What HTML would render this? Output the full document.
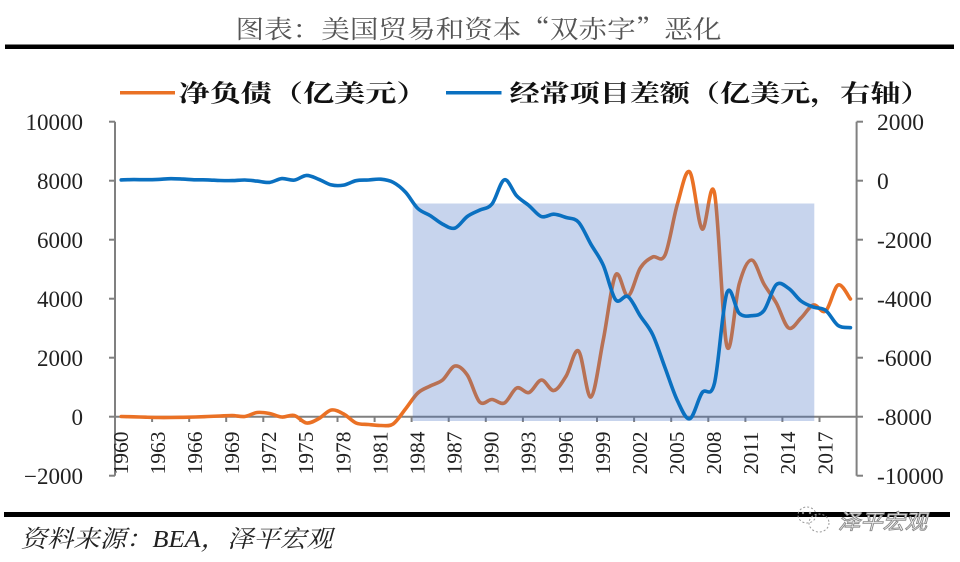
<!DOCTYPE html>
<html>
<head>
<meta charset="utf-8">
<style>
html,body{margin:0;padding:0;background:#fff;}
svg{display:block;}
</style>
</head>
<body>
<svg width="960" height="562" viewBox="0 0 960 562" xmlns="http://www.w3.org/2000/svg">
<rect x="0" y="0" width="960" height="562" fill="#ffffff"/>

<!-- Title -->
<text x="235.5" y="38" font-family="'Noto Serif CJK SC','Noto Sans CJK SC',serif" font-size="25" fill="#555555" textLength="486" lengthAdjust="spacingAndGlyphs">图表：美国贸易和资本“双赤字”恶化</text>
<rect x="5" y="44.5" width="949" height="4.5" fill="#000"/>

<!-- Legend -->
<line x1="120" y1="92.7" x2="175" y2="92.7" stroke="#EA7125" stroke-width="3.5"/>
<text x="178.5" y="101.5" font-family="'Noto Serif CJK SC','Noto Sans CJK SC',serif" font-weight="bold" font-size="24" fill="#111" textLength="249" lengthAdjust="spacingAndGlyphs">净负债（亿美元）</text>
<line x1="446" y1="92.7" x2="501.5" y2="92.7" stroke="#0A70C0" stroke-width="3.5"/>
<text x="509.5" y="101.5" font-family="'Noto Serif CJK SC','Noto Sans CJK SC',serif" font-weight="bold" font-size="24" fill="#111" textLength="421" lengthAdjust="spacingAndGlyphs">经常项目差额（亿美元，右轴）</text>

<!-- Axes -->
<g stroke="#808080" stroke-width="2" fill="none">
  <line x1="115" y1="121.7" x2="115" y2="475.7"/>
  <line x1="856.6" y1="121.7" x2="856.6" y2="475.7"/>
  <line x1="115" y1="416.7" x2="856.6" y2="416.7"/>
  <!-- left ticks -->
  <line x1="109" y1="121.7" x2="115" y2="121.7"/>
  <line x1="109" y1="180.7" x2="115" y2="180.7"/>
  <line x1="109" y1="239.7" x2="115" y2="239.7"/>
  <line x1="109" y1="298.7" x2="115" y2="298.7"/>
  <line x1="109" y1="357.7" x2="115" y2="357.7"/>
  <line x1="109" y1="416.7" x2="115" y2="416.7"/>
  <line x1="109" y1="475.7" x2="115" y2="475.7"/>
  <!-- right ticks -->
  <line x1="856.6" y1="121.7" x2="863" y2="121.7"/>
  <line x1="856.6" y1="180.7" x2="863" y2="180.7"/>
  <line x1="856.6" y1="239.7" x2="863" y2="239.7"/>
  <line x1="856.6" y1="298.7" x2="863" y2="298.7"/>
  <line x1="856.6" y1="357.7" x2="863" y2="357.7"/>
  <line x1="856.6" y1="416.7" x2="863" y2="416.7"/>
  <line x1="856.6" y1="475.7" x2="863" y2="475.7"/>
  <!-- x ticks -->
  <line x1="152.1" y1="416.7" x2="152.1" y2="422"/>
  <line x1="189.2" y1="416.7" x2="189.2" y2="422"/>
  <line x1="226.2" y1="416.7" x2="226.2" y2="422"/>
  <line x1="263.3" y1="416.7" x2="263.3" y2="422"/>
  <line x1="300.4" y1="416.7" x2="300.4" y2="422"/>
  <line x1="337.5" y1="416.7" x2="337.5" y2="422"/>
  <line x1="374.6" y1="416.7" x2="374.6" y2="422"/>
  <line x1="411.6" y1="416.7" x2="411.6" y2="422"/>
  <line x1="448.7" y1="416.7" x2="448.7" y2="422"/>
  <line x1="485.8" y1="416.7" x2="485.8" y2="422"/>
  <line x1="522.9" y1="416.7" x2="522.9" y2="422"/>
  <line x1="560" y1="416.7" x2="560" y2="422"/>
  <line x1="597" y1="416.7" x2="597" y2="422"/>
  <line x1="634.1" y1="416.7" x2="634.1" y2="422"/>
  <line x1="671.2" y1="416.7" x2="671.2" y2="422"/>
  <line x1="708.3" y1="416.7" x2="708.3" y2="422"/>
  <line x1="745.4" y1="416.7" x2="745.4" y2="422"/>
  <line x1="782.4" y1="416.7" x2="782.4" y2="422"/>
  <line x1="819.5" y1="416.7" x2="819.5" y2="422"/>
</g>

<!-- Orange series: net liabilities -->
<polyline id="ol" fill="none" stroke="#EA7125" stroke-width="3.6" stroke-linejoin="round" stroke-linecap="round"
points="121.2,416.5 133.56,416.8 145.92,417.2 158.28,417.5 170.64,417.5 183,417.3 195.36,417 207.72,416.5 220.08,416 232.44,415.5 244.8,416.5 257.16,412.5 269.52,413.5 281.88,417 294.24,415.5 306.6,423 318.96,418.5 331.32,410 343.68,414 356.04,423 368.4,424.5 380.76,425.5 393.12,424 405.48,409 417.84,393 430.2,386 442.56,380 454.92,366 467.28,375 479.64,402 492,399.5 504.36,403 516.72,388 529.08,392.5 541.44,380 553.8,390.5 566.16,376 578.52,351 590.88,397 603.24,340 615.6,275 627.96,296 640.32,268 652.68,257 665.04,255 677.4,204 689.76,172 702.12,229 714.48,193 726.84,346 739.2,284 751.56,260 763.92,284 776.28,303 788.64,328 801,318 813.36,305 825.72,311 838.08,285 850.44,299"/>

<!-- Shaded period -->
<rect x="412.7" y="203.5" width="401.6" height="217.5" fill="#4472C4" fill-opacity="0.3"/>

<!-- Blue series: current account -->
<polyline id="bl" fill="none" stroke="#0A70C0" stroke-width="3.6" stroke-linejoin="round" stroke-linecap="round"
points="121.2,179.9 133.56,179.6 145.92,179.7 158.28,179.4 170.64,178.7 183,179.1 195.36,179.8 207.72,179.9 220.08,180.5 232.44,180.6 244.8,180.0 257.16,181.1 269.52,182.4 281.88,178.6 294.24,180.1 306.6,175.4 318.96,179.4 331.32,184.9 343.68,185.1 356.04,180.7 368.4,180.0 380.76,179.2 393.12,182.3 405.48,192.1 417.84,208.5 430.2,215.6 442.56,224.1 454.92,228.1 467.28,216.5 479.64,210.1 492,204.0 504.36,179.8 516.72,195.9 529.08,205.7 541.44,216.6 553.8,214.2 566.16,217.5 578.52,222.2 590.88,244.2 603.24,265.2 615.6,299.7 627.96,296.6 640.32,316.0 652.68,334.6 665.04,367.7 677.4,400.6 689.76,418.7 702.12,392.7 714.48,383.2 726.84,293.0 739.2,313.3 751.56,315.7 763.92,310.6 776.28,284.7 788.64,288.4 801,301.0 813.36,307.1 825.72,310.4 838.08,325.5 850.44,327.7"/>

<!-- Left axis labels -->
<g font-family="'Liberation Serif',serif" font-size="23" fill="#222" text-anchor="end">
  <text x="83" y="130.2">10000</text>
  <text x="83" y="189.2">8000</text>
  <text x="83" y="248.2">6000</text>
  <text x="83" y="307.2">4000</text>
  <text x="83" y="366.2">2000</text>
  <text x="83" y="425.2">0</text>
  <text x="83" y="484.2">−2000</text>
</g>

<!-- Right axis labels -->
<g font-family="'Liberation Serif',serif" font-size="23.5" fill="#222">
  <text x="877" y="130.2">2000</text>
  <text x="877" y="189.2">0</text>
  <text x="877" y="248.2">-2000</text>
  <text x="877" y="307.2">-4000</text>
  <text x="877" y="366.2">-6000</text>
  <text x="877" y="425.2">-8000</text>
  <text x="877" y="484.2">-10000</text>
</g>

<!-- X axis labels (rotated) -->
<g font-family="'Liberation Serif',serif" font-size="21" fill="#222" text-anchor="end">
  <text transform="translate(127.8,431.5) rotate(-90)" textLength="43" lengthAdjust="spacingAndGlyphs">1960</text>
  <text transform="translate(164.88,431.5) rotate(-90)" textLength="43" lengthAdjust="spacingAndGlyphs">1963</text>
  <text transform="translate(201.96,431.5) rotate(-90)" textLength="43" lengthAdjust="spacingAndGlyphs">1966</text>
  <text transform="translate(239.04,431.5) rotate(-90)" textLength="43" lengthAdjust="spacingAndGlyphs">1969</text>
  <text transform="translate(276.12,431.5) rotate(-90)" textLength="43" lengthAdjust="spacingAndGlyphs">1972</text>
  <text transform="translate(313.2,431.5) rotate(-90)" textLength="43" lengthAdjust="spacingAndGlyphs">1975</text>
  <text transform="translate(350.28,431.5) rotate(-90)" textLength="43" lengthAdjust="spacingAndGlyphs">1978</text>
  <text transform="translate(387.36,431.5) rotate(-90)" textLength="43" lengthAdjust="spacingAndGlyphs">1981</text>
  <text transform="translate(424.44,431.5) rotate(-90)" textLength="43" lengthAdjust="spacingAndGlyphs">1984</text>
  <text transform="translate(461.52,431.5) rotate(-90)" textLength="43" lengthAdjust="spacingAndGlyphs">1987</text>
  <text transform="translate(498.6,431.5) rotate(-90)" textLength="43" lengthAdjust="spacingAndGlyphs">1990</text>
  <text transform="translate(535.68,431.5) rotate(-90)" textLength="43" lengthAdjust="spacingAndGlyphs">1993</text>
  <text transform="translate(572.76,431.5) rotate(-90)" textLength="43" lengthAdjust="spacingAndGlyphs">1996</text>
  <text transform="translate(609.84,431.5) rotate(-90)" textLength="43" lengthAdjust="spacingAndGlyphs">1999</text>
  <text transform="translate(646.92,431.5) rotate(-90)" textLength="43" lengthAdjust="spacingAndGlyphs">2002</text>
  <text transform="translate(684,431.5) rotate(-90)" textLength="43" lengthAdjust="spacingAndGlyphs">2005</text>
  <text transform="translate(721.08,431.5) rotate(-90)" textLength="43" lengthAdjust="spacingAndGlyphs">2008</text>
  <text transform="translate(758.16,431.5) rotate(-90)" textLength="43" lengthAdjust="spacingAndGlyphs">2011</text>
  <text transform="translate(795.24,431.5) rotate(-90)" textLength="43" lengthAdjust="spacingAndGlyphs">2014</text>
  <text transform="translate(832.32,431.5) rotate(-90)" textLength="43" lengthAdjust="spacingAndGlyphs">2017</text>
</g>

<!-- Bottom rule -->
<rect x="4" y="512" width="946" height="5" fill="#000"/>

<!-- Source -->
<text x="20.5" y="547" font-family="'Liberation Serif','Noto Serif CJK SC',serif" font-style="italic" font-size="24" fill="#222" textLength="312" lengthAdjust="spacingAndGlyphs">资料来源：BEA，泽平宏观</text>

<!-- Watermark -->
<g fill="none" stroke="#9a9a9a" stroke-width="1" stroke-dasharray="2 2">
  <ellipse cx="807" cy="515" rx="9" ry="8"/>
  <ellipse cx="819" cy="523" rx="10" ry="9"/>
</g>
<circle cx="803" cy="513" r="1.2" fill="#888"/>
<circle cx="810" cy="513" r="1.2" fill="#888"/>
<text x="838" y="529" font-family="'Noto Sans CJK SC',sans-serif" font-style="italic" font-size="21" fill="#ffffff" stroke="#8a8a8a" stroke-width="0.9" textLength="89" lengthAdjust="spacingAndGlyphs">泽平宏观</text>
</svg>

<script>
(function(){
  var ns='http://www.w3.org/2000/svg';
  ['ol','bl'].forEach(function(id){
    var pl=document.getElementById(id);
    if(!pl) return;
    var pts=pl.getAttribute('points').trim().split(/\s+/).map(function(s){return s.split(',').map(Number);});
    var d='M'+pts[0][0]+','+pts[0][1];
    var n=pts.length;
    for(var i=0;i<n-1;i++){
      var p0=pts[i>0?i-1:0],p1=pts[i],p2=pts[i+1],p3=pts[i+2<n?i+2:n-1];
      var c1x=p1[0]+(p2[0]-p0[0])/6,c1y=p1[1]+(p2[1]-p0[1])/6;
      var c2x=p2[0]-(p3[0]-p1[0])/6,c2y=p2[1]-(p3[1]-p1[1])/6;
      d+=' C'+c1x.toFixed(2)+','+c1y.toFixed(2)+' '+c2x.toFixed(2)+','+c2y.toFixed(2)+' '+p2[0]+','+p2[1];
    }
    var p=document.createElementNS(ns,'path');
    p.setAttribute('d',d);
    ['stroke','stroke-width','fill','stroke-linejoin','stroke-linecap'].forEach(function(a){
      var v=pl.getAttribute(a); if(v) p.setAttribute(a,v);
    });
    pl.parentNode.replaceChild(p,pl);
  });
})();
</script>
</body>
</html>
